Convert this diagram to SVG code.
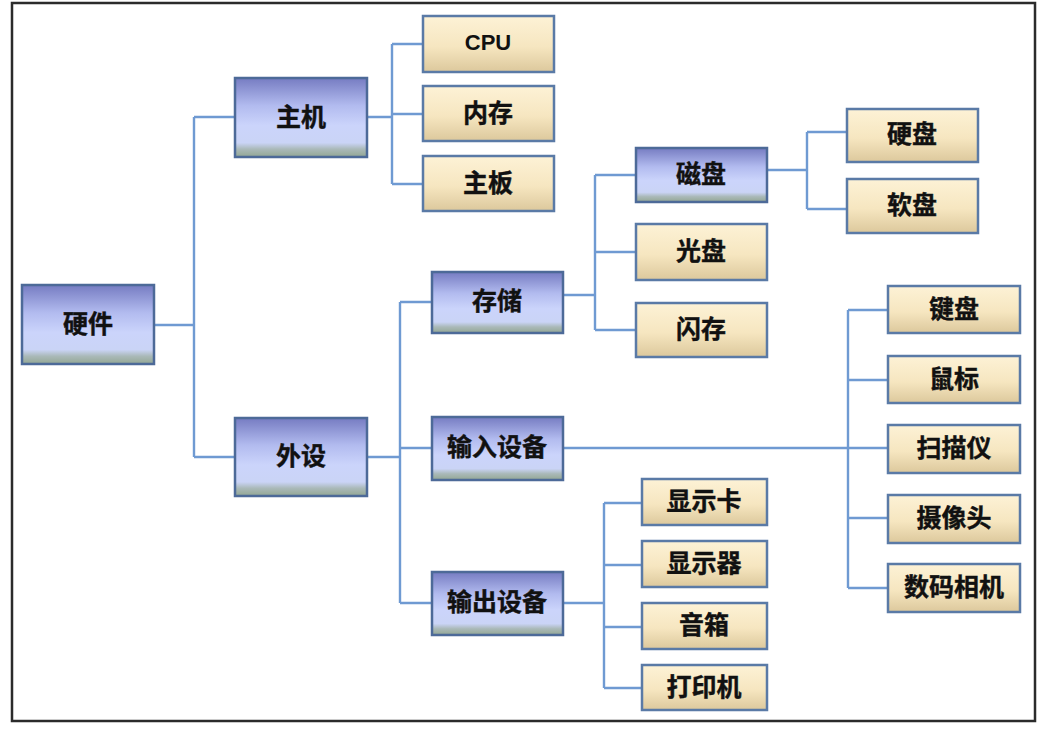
<svg xmlns="http://www.w3.org/2000/svg" width="1045" height="732" viewBox="0 0 1045 732">
  <defs>
    <linearGradient id="gBlue" x1="0" y1="0" x2="0" y2="1">
      <stop offset="0" stop-color="#767cc2"/>
      <stop offset="0.35" stop-color="#b2bbef"/>
      <stop offset="0.6" stop-color="#cbd4fb"/>
      <stop offset="0.82" stop-color="#cad4f6"/>
      <stop offset="0.9" stop-color="#aab9b9"/>
      <stop offset="1" stop-color="#93a793"/>
    </linearGradient>
    <linearGradient id="gTan" x1="0" y1="0" x2="0" y2="1">
      <stop offset="0" stop-color="#fdf2d6"/>
      <stop offset="0.55" stop-color="#f6e6c0"/>
      <stop offset="1" stop-color="#dcc89c"/>
    </linearGradient>
  </defs>
  <style>
    .frame { fill: #ffffff; stroke: #2b2b2b; stroke-width: 2.5; }
    .blue { fill: url(#gBlue); stroke: #4d6a98; stroke-width: 2.5; }
    .tan { fill: url(#gTan); stroke: #5a7aa6; stroke-width: 2.5; }
    .lbl { font-family: "Noto Sans CJK SC", "Noto Sans", sans-serif; font-weight: bold; font-size: 25px; fill: #111111; stroke: #111111; stroke-width: 0.4; text-anchor: middle; dominant-baseline: central; }
    .lat { font-family: "Liberation Sans", sans-serif; font-weight: bold; font-size: 22px; fill: #111111; text-anchor: middle; dominant-baseline: central; }
    .wire { fill: none; stroke: #6f9ad2; stroke-width: 2.4; }
  </style>

  <rect class="frame" x="12" y="3" width="1023" height="718"/>

  <g id="connectors">
    <!-- 硬件 -> 主机 / 外设 -->
    <path class="wire" d="M154 325 H194 M194 117 V457 M194 117 H235 M194 457 H235"/>
    <!-- 主机 -> CPU / 内存 / 主板 -->
    <path class="wire" d="M367 117 H392 M392 44 V184 M392 44 H423 M392 114 H423 M392 184 H423"/>
    <!-- 外设 -> 存储 / 输入设备 / 输出设备 -->
    <path class="wire" d="M367 457 H400 M400 302 V603 M400 302 H432 M400 448 H432 M400 603 H432"/>
    <!-- 存储 -> 磁盘 / 光盘 / 闪存 -->
    <path class="wire" d="M563 295 H595 M595 175 V330 M595 175 H636 M595 252 H636 M595 330 H636"/>
    <!-- 磁盘 -> 硬盘 / 软盘 -->
    <path class="wire" d="M767 170 H807 M807 132 V209 M807 132 H847 M807 209 H847"/>
    <!-- 输入设备 -> 输入类外设 -->
    <path class="wire" d="M563 448 H888 M848 310 V588 M848 310 H888 M848 380 H888 M848 518 H888 M848 588 H888"/>
    <!-- 输出设备 -> 输出类外设 -->
    <path class="wire" d="M563 603 H604 M604 503 V688 M604 503 H642 M604 565 H642 M604 627 H642 M604 688 H642"/>
  </g>

  <g id="n-hardware"><rect class="blue" x="22" y="285" width="132" height="79"/><text class="lbl" x="88" y="322">硬件</text></g>
  <g id="n-host"><rect class="blue" x="235" y="78" width="132" height="79"/><text class="lbl" x="301" y="115">主机</text></g>
  <g id="n-peripheral"><rect class="blue" x="235" y="418" width="132" height="78"/><text class="lbl" x="301" y="454">外设</text></g>

  <g id="n-cpu"><rect class="tan" x="423" y="16" width="131" height="56"/><text class="lat" x="488" y="42">CPU</text></g>
  <g id="n-memory"><rect class="tan" x="423" y="86" width="131" height="55"/><text class="lbl" x="488" y="111">内存</text></g>
  <g id="n-board"><rect class="tan" x="423" y="156" width="131" height="55"/><text class="lbl" x="488" y="181">主板</text></g>

  <g id="n-storage"><rect class="blue" x="432" y="272" width="131" height="61"/><text class="lbl" x="497" y="299">存储</text></g>
  <g id="n-input"><rect class="blue" x="432" y="417" width="131" height="63"/><text class="lbl" x="497" y="445">输入设备</text></g>
  <g id="n-output"><rect class="blue" x="432" y="572" width="131" height="63"/><text class="lbl" x="497" y="600">输出设备</text></g>

  <g id="n-disk"><rect class="blue" x="636" y="148" width="131" height="54"/><text class="lbl" x="701" y="172">磁盘</text></g>
  <g id="n-optical"><rect class="tan" x="636" y="224" width="131" height="56"/><text class="lbl" x="701" y="249">光盘</text></g>
  <g id="n-flash"><rect class="tan" x="636" y="303" width="131" height="54"/><text class="lbl" x="701" y="327">闪存</text></g>

  <g id="n-hdd"><rect class="tan" x="847" y="109" width="131" height="53"/><text class="lbl" x="912" y="132">硬盘</text></g>
  <g id="n-floppy"><rect class="tan" x="847" y="179" width="131" height="54"/><text class="lbl" x="912" y="203">软盘</text></g>

  <g id="n-keyboard"><rect class="tan" x="888" y="286" width="132" height="47"/><text class="lbl" x="954" y="307">键盘</text></g>
  <g id="n-mouse"><rect class="tan" x="888" y="356" width="132" height="47"/><text class="lbl" x="954" y="377">鼠标</text></g>
  <g id="n-scanner"><rect class="tan" x="888" y="425" width="132" height="48"/><text class="lbl" x="954" y="446">扫描仪</text></g>
  <g id="n-webcam"><rect class="tan" x="888" y="495" width="132" height="48"/><text class="lbl" x="954" y="516">摄像头</text></g>
  <g id="n-camera"><rect class="tan" x="888" y="564" width="132" height="48"/><text class="lbl" x="954" y="585">数码相机</text></g>

  <g id="n-gpu"><rect class="tan" x="642" y="479" width="125" height="46"/><text class="lbl" x="704" y="499">显示卡</text></g>
  <g id="n-monitor"><rect class="tan" x="642" y="541" width="125" height="46"/><text class="lbl" x="704" y="561">显示器</text></g>
  <g id="n-speaker"><rect class="tan" x="642" y="603" width="125" height="46"/><text class="lbl" x="704" y="623">音箱</text></g>
  <g id="n-printer"><rect class="tan" x="642" y="665" width="125" height="45"/><text class="lbl" x="704" y="685">打印机</text></g>
</svg>
